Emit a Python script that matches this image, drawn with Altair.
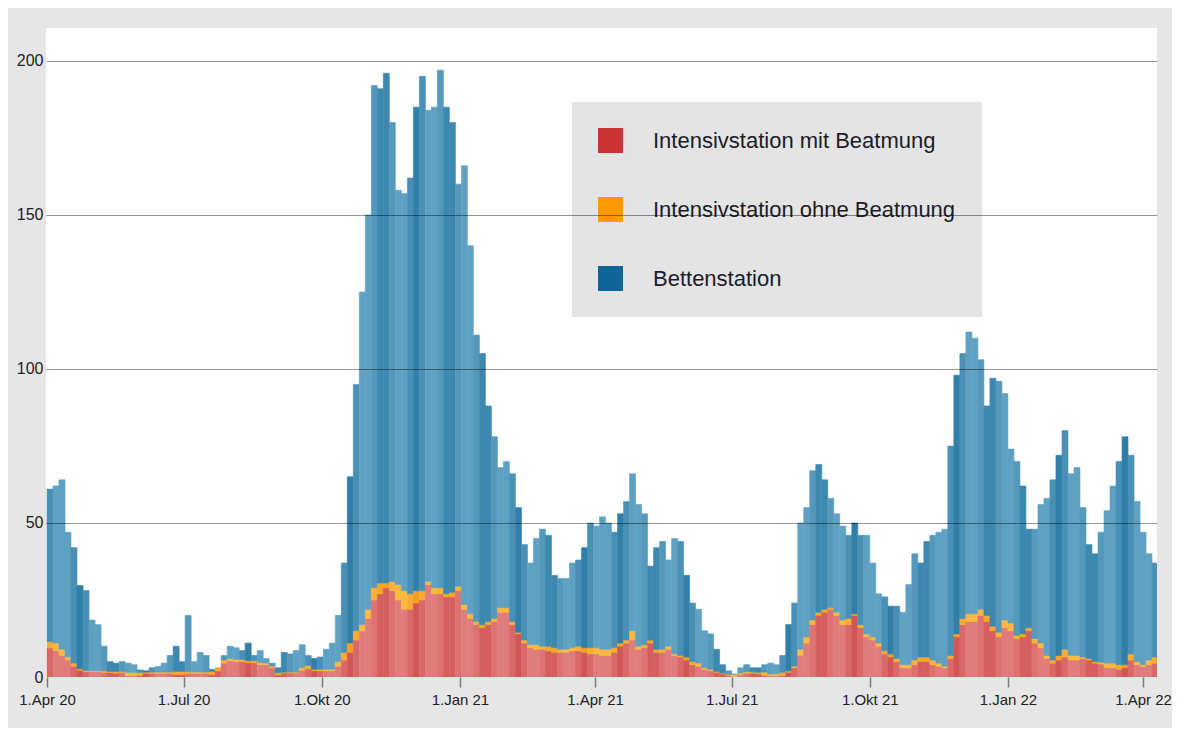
import altair as alt
import pandas as pd

# ---- data: 4-day bins starting 1 Apr 2020 ----
start_date = "2020-04-01"
bin_days = 4

names = ["Intensivstation mit Beatmung", "Intensivstation ohne Beatmung", "Bettenstation"]

red = [9.5, 8.5, 7, 5.5, 3.5, 2.2, 1.7, 1.7, 1.7, 1.5,
       1.5, 1.2, 1.5, 0.5, 0.5, 0.5, 1.2, 1.2, 1.2, 1.2,
       1.2, 0.8, 0.8, 1.2, 1.2, 1.2, 1.2, 0.8, 2, 4.5,
       5.3, 5, 5, 4.6, 4.6, 4, 4, 3, 0.7, 1.3,
       1.3, 1.3, 2.2, 2.6, 2, 2, 2, 2, 3.5, 5.5,
       8, 12, 15, 19, 25, 27, 29, 28, 25, 22,
       22, 24, 25, 30, 27, 27, 26, 26, 28, 22,
       19, 17, 16, 17, 18, 21, 21, 17, 14, 11,
       9.5, 9, 9, 8.5, 8, 8, 8, 8.5, 8.5, 8,
       7.5, 7.5, 7, 7, 8, 10, 11, 12, 9, 9.5,
       11, 8, 8, 9, 7, 6.5, 5.5, 4, 3.5, 2.5,
       2, 1.5, 1, 0.6, 0.2, 0.8, 1.2, 1.2, 1, 0.6,
       0.4, 0.4, 0.5, 1.5, 3, 7, 11, 17, 20, 21,
       22, 20, 17, 17, 20, 16, 13, 12, 10, 7.5,
       6.5, 5, 3, 3, 4, 5, 5, 4, 3.5, 3,
       6, 13, 17, 18, 18, 20, 18, 15, 13, 16,
       15, 12.5, 13, 15, 11, 9.5, 6, 4.5, 5.5, 6.5,
       5.5, 5.5, 6, 5.5, 4.5, 4.2, 3, 3, 2.5, 3,
       5.5, 4, 3.4, 4, 4.5]

orange = [2, 2.5, 2, 1, 1, 0.5, 0.4, 0.3, 0.3, 0.5,
          0.3, 0.6, 0.3, 1, 1, 1, 0.4, 0.4, 0.4, 0.4,
          0.4, 1, 1, 0.5, 0.4, 0.4, 0.4, 1, 1, 1,
          0.7, 0.7, 0.7, 0.7, 0.7, 0.7, 0.5, 0.5, 0.7, 0.3,
          0.3, 0.3, 0.8, 1.2, 0.5, 0.5, 0.5, 0.5, 1.5, 2.5,
          3, 3, 2, 3, 4, 3.5, 1.5, 3, 5, 6,
          5, 4, 3, 1, 2, 2, 1, 1.5, 1.5, 1.5,
          1.5, 1, 1, 1, 1, 1.5, 1.5, 1, 0.5, 1,
          1, 1.5, 1, 1.5, 1.5, 1, 1, 1, 1.5, 1.5,
          2, 2, 2, 2, 1.5, 1, 1, 3, 1, 1,
          1, 1, 1, 1, 0.5, 0.5, 1, 1, 1, 0.5,
          0.5, 0.3, 0.3, 0.3, 0.6, 0.5, 0.5, 0.5, 0.5, 1,
          0.5, 0.6, 1, 0.5, 0.5, 2, 2, 1.5, 1, 1,
          0.5, 1, 1.5, 2, 0.5, 1, 1, 1, 1, 1,
          1, 1, 1, 1, 1.5, 1.5, 1.5, 1.5, 1, 0.5,
          1, 1, 2, 2.5, 2.5, 2, 2, 1.5, 1.5, 2.5,
          2.5, 1, 1, 1, 1.5, 1.5, 1, 1, 1.5, 2.5,
          1.5, 1.5, 0.5, 0.5, 0.5, 0.6, 1.5, 1.5, 1.5, 1,
          2, 1, 0.6, 1.5, 2]

blue = [49.5, 51, 55, 40.5, 37.5, 27, 26, 16.5, 15, 8,
        3.2, 2.7, 3.2, 3, 2.5, 0.8, 0.4, 1.4, 1.8, 2.9,
        5.4, 8.2, 3.2, 18.3, 3.4, 6.4, 5.4, 0.7, 0, 1.5,
        4, 3.8, 2.9, 5.7, 1.7, 3.9, 1.5, 1, 1.6, 6.4,
        5.9, 7, 7.5, 3.2, 3.5, 4, 6.5, 8.5, 15, 29,
        54, 80, 108, 128, 163, 160.5, 165.5, 149, 128, 129,
        135, 157, 167, 153, 156, 168, 158, 152.5, 130.5, 142.5,
        119.5, 93, 88, 70, 59, 45.5, 47.5, 48, 40.5, 31,
        26.5, 34.5, 38, 36, 23.5, 23, 23, 27.5, 28, 32.5,
        40.5, 39.5, 43, 41, 37.5, 42, 45, 51, 46, 42.5,
        24, 33, 35, 28, 37.5, 37, 26.5, 19, 17.5, 12,
        11.5, 7.2, 2.7, 1.1, 0.2, 1.7, 2.3, 1.3, 1.5, 2.4,
        3.6, 3, 5.5, 15, 20.5, 41, 42, 48.5, 48, 42,
        35.5, 32, 30.5, 27, 29.5, 29, 32, 24, 16, 17.5,
        15.5, 17, 17, 26, 34.5, 30.5, 37.5, 40.5, 42.5, 44.5,
        68, 84, 86, 91.5, 89.5, 81, 68, 80.5, 81.5, 73.5,
        56.5, 56.5, 48, 32, 35.5, 45, 51, 58.5, 65, 71,
        59, 61, 48.5, 37, 35, 42.2, 49.5, 57.5, 66, 74,
        64.5, 52, 43, 34.5, 30.5]

tick_months = [(2020, 4), (2020, 7), (2020, 10), (2021, 1), (2021, 4),
               (2021, 7), (2021, 10), (2022, 1), (2022, 4)]

# ---- styling ----
legend_colors = ["#cc3333", "#ff9900", "#0e6699"]
light = {"r": "#e07c7c", "o": "#fcb840", "b": "#5fa1c2"}
dark = {"r": "#cd4c4c", "o": "#f39a1a", "b": "#2677a2"}
LEVELS = 4
MAX_DARK = 0.8
stripe_period = 22.5
stripe_offset = -1.3


def mix(c1, c2, t):
    a = [int(c1[i:i + 2], 16) for i in (1, 3, 5)]
    b = [int(c2[i:i + 2], 16) for i in (1, 3, 5)]
    return "#" + "".join(f"{round(a[j] + (b[j] - a[j]) * t):02x}" for j in range(3))


keys, key_colors = [], []
for s in ("r", "o", "b"):
    for lv in range(LEVELS + 1):
        keys.append(f"{s}{lv}")
        key_colors.append(mix(light[s], dark[s], MAX_DARK * lv / LEVELS))

rows = []
t0 = pd.Timestamp(start_date)
for k in range(len(blue)):
    a = t0 + pd.Timedelta(days=bin_days * k)
    e = a + pd.Timedelta(days=bin_days)
    c = bin_days * k + bin_days / 2
    m = (c - stripe_offset) % stripe_period
    dist = min(m, stripe_period - m)
    lv = round(LEVELS * max(0.0, 1 - dist / 8.0))
    base = 0.0
    for s, v in (("r", red[k]), ("o", orange[k]), ("b", blue[k])):
        if v > 0:
            rows.append({"start": a.strftime("%Y-%m-%dT%H:%M:%S"),
                         "end": e.strftime("%Y-%m-%dT%H:%M:%S"),
                         "y0": base, "y1": base + v, "key": f"{s}{lv}"})
        base += v
df = pd.DataFrame(rows)

color_scale = alt.Scale(domain=names + keys, range=legend_colors + key_colors)

month_expr = ("'1.' + ['Jan','Feb','Mär','Apr','Mai','Jun','Jul','Aug','Sep','Okt','Nov','Dez']"
              "[month(datum.value)] + ' ' + timeFormat(datum.value, '%y')")

chart = alt.Chart(df).mark_bar(strokeWidth=0.6, clip=True).encode(
    x=alt.X("start:T", title=None,
            scale=alt.Scale(domain=[alt.DateTime(year=2020, month=3, date=31, hours=8),
                                    alt.DateTime(year=2022, month=4, date=10, hours=7)]),
            axis=alt.Axis(values=[alt.DateTime(year=y, month=m, date=1) for y, m in tick_months],
                          labelExpr=month_expr, grid=False, domain=False,
                          tickColor="#7a7a7a", tickSize=10, tickWidth=1.5,
                          labelFontSize=15, labelFont="Liberation Sans", labelColor="#222222",
                          labelPadding=5, labelOverlap=False, labelBound=False, labelFlush=False)),
    x2="end:T",
    y=alt.Y("y0:Q", title=None,
            scale=alt.Scale(domain=[0, 210.7], nice=False),
            axis=alt.Axis(values=[0, 50, 100, 150, 200], grid=True, gridColor="#000000",
                          gridOpacity={"condition": {"test": "datum.value === 0", "value": 0}, "value": 0.42},
                          gridWidth=1, ticks=False, domain=False, zindex=1,
                          labelFontSize=16, labelFont="Liberation Sans", labelColor="#222222",
                          labelPadding=3)),
    y2="y1:Q",
    color=alt.Color("key:N", scale=color_scale,
                    legend=alt.Legend(values=names, title=None, orient="none", direction="vertical",
                                      legendX=526, legendY=74, fillColor="#e4e4e4", padding=26,
                                      symbolType="square", symbolSize=625, symbolStrokeWidth=0,
                                      symbolOpacity=1, labelFontSize=22, labelFont="Liberation Sans",
                                      labelColor="#1c1c28", labelOffset=30, rowPadding=44,
                                      labelLimit=500)),
    stroke=alt.Stroke("key:N", scale=color_scale, legend=None),
).properties(
    width=1111, height=649, background="#e6e6e6",
    padding={"left": 38, "top": 20, "right": 15, "bottom": 51},
    autosize=alt.AutoSizeParams(type="none"),
).configure_view(fill="white", strokeWidth=0)

chart.save("out.html", embed_options={"renderer": "svg", "actions": False})
